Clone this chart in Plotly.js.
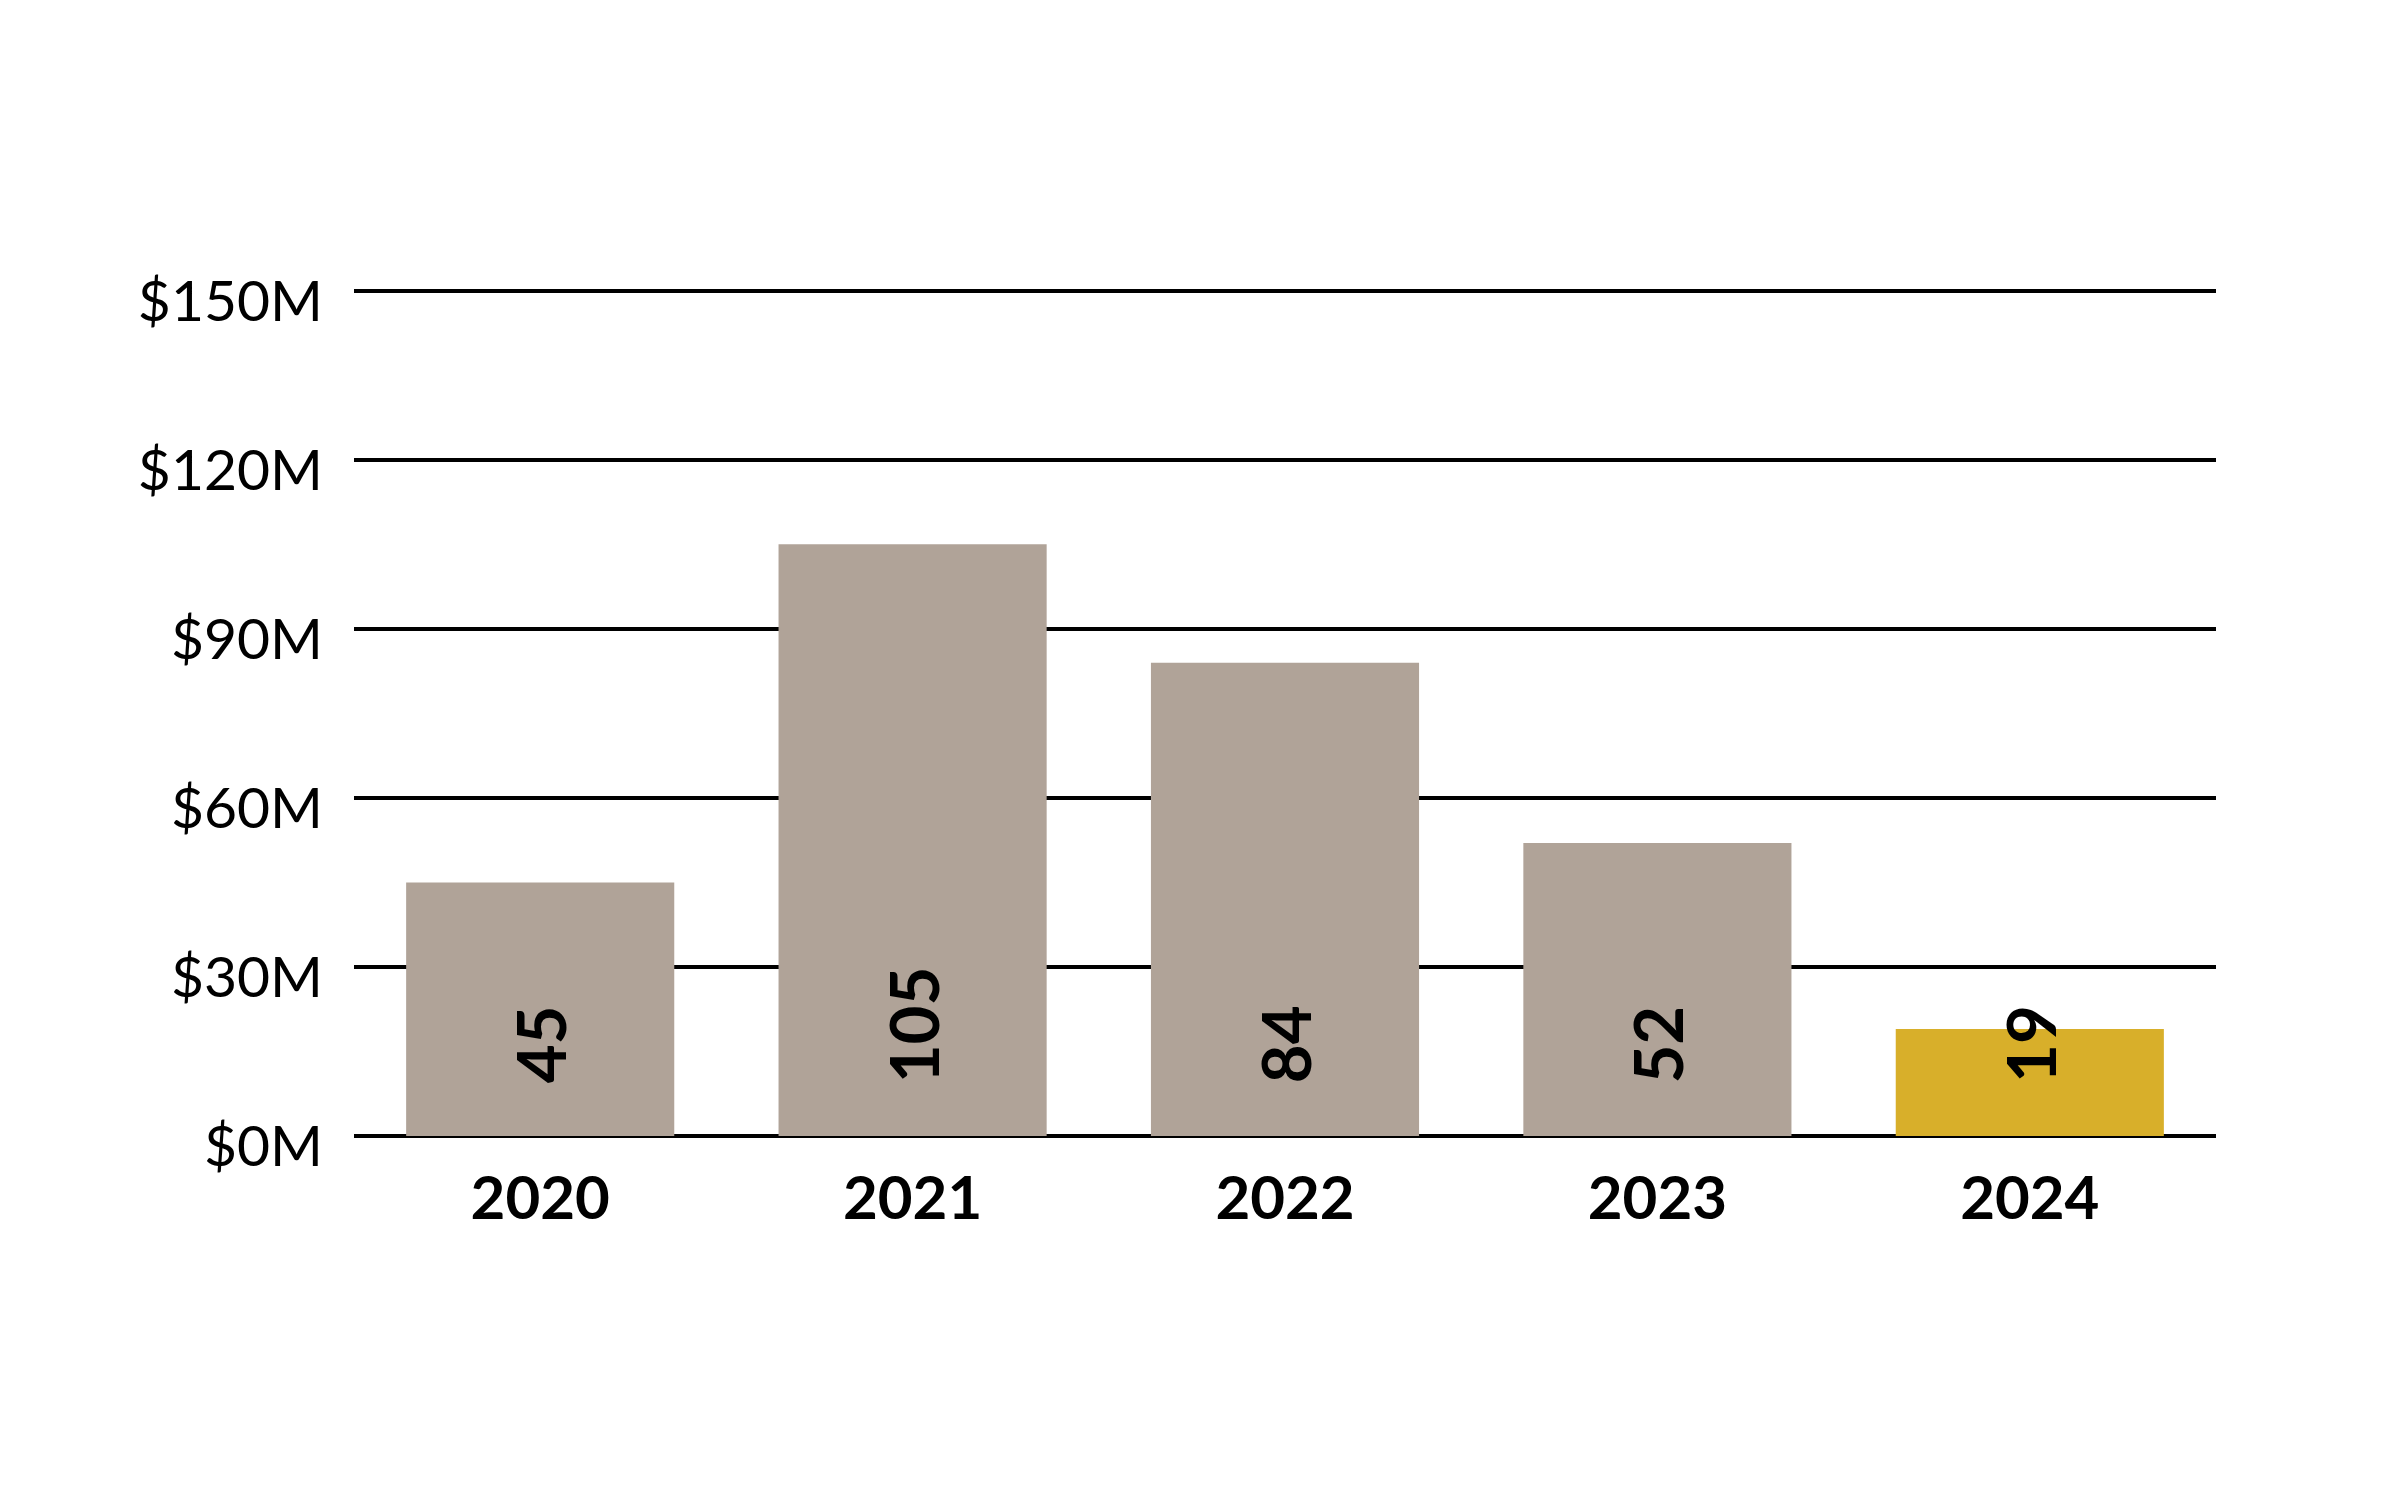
<!DOCTYPE html>
<html>
<head>
<meta charset="utf-8">
<script src="https://cdn.plot.ly/plotly-3.0.1.min.js"></script>
<style>
  html, body { margin: 0; padding: 0; background: #ffffff; }
  #chart { width: 2400px; height: 1500px; }
</style>
</head>
<body>
<div id="chart"></div>
<script>
// Data
const years = ['2020', '2021', '2022', '2023', '2024'];
const values = [45, 105, 84, 52, 19];          // $M
const barColors = ['#B0A398', '#B0A398', '#B0A398', '#B0A398', '#D8AF2A'];
const yTicks = [0, 30, 60, 90, 120, 150];

const labelBase = 9.2; // value-label base offset above the axis, in $M units

const trace = {
  type: 'bar',
  x: years,
  y: values,
  marker: { color: barColors, line: { width: 0 } },
  hoverinfo: 'skip'
};

const annotations = years.map((yr, i) => ({
  x: i,
  y: labelBase,
  xref: 'x',
  yref: 'y',
  text: String(values[i]),
  showarrow: false,
  textangle: -90,
  yanchor: 'bottom',
  xanchor: 'center',
  borderpad: 0,
  font: { family: 'Lato, sans-serif', size: 67, color: '#000000', weight: 700 }
}));

const layout = {
  width: 2400,
  height: 1500,
  paper_bgcolor: '#ffffff',
  plot_bgcolor: '#ffffff',
  margin: { l: 354, r: 184, t: 288, b: 364 },
  bargap: 0.28,
  showlegend: false,
  xaxis: {
    type: 'category',
    range: [-0.5, years.length - 0.5],
    autorange: false,
    showgrid: false,
    zeroline: false,
    showline: false,
    ticks: '',
    ticklabelstandoff: 22,
    tickfont: { family: 'Lato, sans-serif', size: 60, color: '#000000', weight: 700 }
  },
  yaxis: {
    range: [0, 150.5],
    autorange: false,
    tickvals: yTicks,
    ticktext: yTicks.map(v => '$' + v + 'M'),
    showgrid: true,
    gridcolor: '#000000',
    gridwidth: 4,
    zeroline: true,
    zerolinecolor: '#000000',
    zerolinewidth: 4,
    showline: false,
    ticks: '',
    ticklabelstandoff: 30,
    ticklabelshift: 10,
    tickfont: { family: 'Lato, sans-serif', size: 57, color: '#000000', weight: 400 }
  },
  annotations: annotations
};

Plotly.newPlot('chart', [trace], layout, { displayModeBar: false, staticPlot: true });
</script>
</body>
</html>
